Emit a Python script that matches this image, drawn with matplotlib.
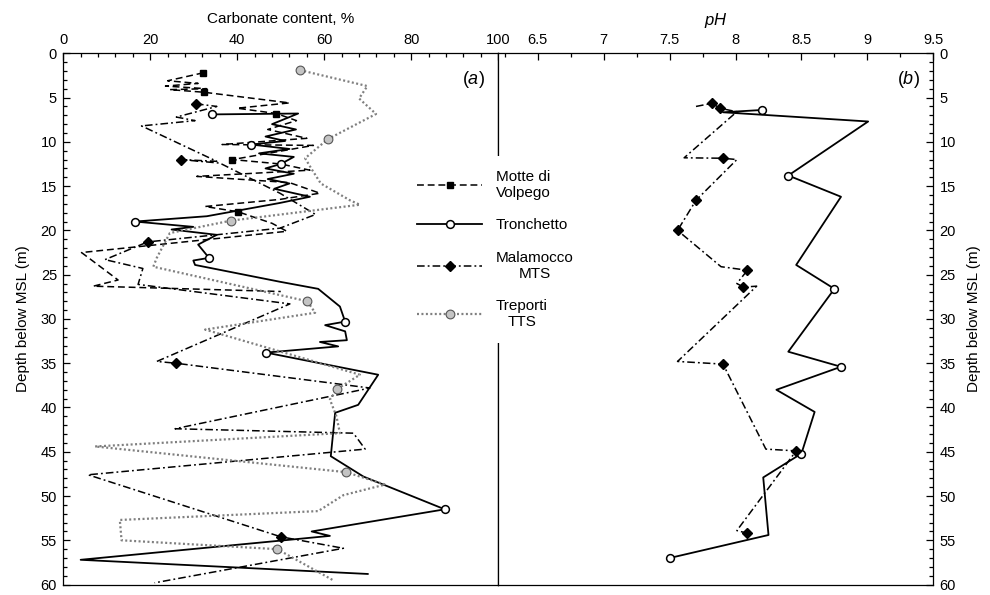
import matplotlib
matplotlib.use("Agg")
import matplotlib.pyplot as plt
from matplotlib.ticker import MultipleLocator, FuncFormatter

plt.rcParams['font.family'] = ['Liberation Sans', 'DejaVu Sans']
plt.rcParams['mathtext.fontset'] = 'custom'
plt.rcParams['mathtext.it'] = 'Liberation Sans:italic'
plt.rcParams['mathtext.rm'] = 'Liberation Sans'

# carbonate content (%) vs depth (m) for the four cores
motte_depth = [2.2, 3.1, 3.4, 3.7, 4.0, 4.1, 4.4, 5.6, 6.2, 6.8, 7.6, 8.6, 9.6, 10.3, 10.4,
               12.0, 12.5, 13.2, 13.9, 14.6, 15.8, 16.5, 17.3, 17.9, 19.2, 20.1, 22.5, 25.6,
               26.3, 26.9]
motte_carb = [32.2, 24, 31, 23.5, 33, 24.5, 32.4, 52, 40, 49, 53.6, 47, 56, 36.5, 57.5,
              38.9, 50, 56.7, 30.7, 52, 59, 49.8, 32.6, 40.2, 48, 51.4, 4.2, 12.6,
              6.9, 50]
motte_marks = [0, 6, 9, 15, 23]

tron_depth = [6.9, 6.8, 8.0, 8.6, 9.4, 9.9, 10.3, 10.8, 11.3, 11.7, 12.5, 13.0, 13.6, 14.2,
              14.7, 15.3, 16.2, 16.9, 18.4, 19.0, 19.6, 19.9, 20.5, 21.6, 23.1, 23.4, 23.9,
              25.8, 26.6, 28.6, 30.3, 30.7, 31.4, 32.4, 32.6, 33.1, 33.8, 36.3, 39.7, 40.6,
              45.5, 47.8, 51.5, 54.0, 54.5, 57.2, 58.8]
tron_carb = [34.1, 54, 48, 53.5, 46.5, 51, 43.2, 52, 45, 53, 50, 46.5, 53, 47,
             52, 48.5, 56.7, 49.8, 33, 16.5, 29.9, 24.9, 35.3, 31, 33.5, 29.9, 30.3,
             49.8, 58.6, 63.6, 64.8, 60.2, 64.8, 65.2, 59, 63.2, 46.6, 72.4, 67.8, 62.5,
             61.5, 69, 87.7, 57.1, 61.3, 4, 70]
tron_marks = [0, 6, 10, 19, 24, 30, 36, 42]

mts_depth = [5.7, 6.0, 7.2, 7.6, 8.2, 12.2, 12.0, 12.4, 15.8, 18.2, 19.75, 21.3, 23.3, 24.3,
             26.1, 28.3, 29.6, 34.8, 35.0, 37.8, 42.4, 42.9, 44.7, 47.6, 54.6, 55.9, 59.8]
mts_carb = [30.5, 35.3, 26, 30.3, 18, 35.3, 27, 36, 49.8, 58, 49.8, 19.4, 9.6, 18.3,
            17.2, 52.1, 46, 21.5, 25.9, 70.5, 25.7, 66.7, 69.4, 5.7, 50, 64.4, 21]
mts_marks = [0, 6, 11, 18, 24]

tts_depth = [1.9, 3.7, 5.1, 6.85, 9.7, 11.85, 13.0, 14.7, 16.6, 17.1, 18.9, 20.3, 23.1, 24.1,
             28.0, 29.3, 31.2, 36.3, 37.9, 39.1, 41.0, 42.9, 44.4, 47.3, 48.7, 49.9, 51.7,
             52.7, 55.0, 56.0, 59.5]
tts_carb = [54.4, 69.9, 68, 71.9, 60.8, 55.6, 57, 59.2, 65.9, 68.2, 38.5, 24.5, 21.5, 20.7,
            56.1, 57.9, 32.6, 68.2, 63, 61.3, 62.8, 63.6, 7.3, 65, 74, 64.4, 58.6,
            13, 13.4, 49.2, 62]
tts_marks = [0, 4, 10, 14, 18, 23, 29]

# pH vs depth
ph_tron_depth = [6.4, 6.66, 7.7, 13.8, 16.2, 23.9, 26.6, 33.7, 35.4, 38.0, 40.5, 45.2, 47.9,
                 54.4, 57.0]
ph_tron = [8.20, 7.905, 9.006, 8.40, 8.80, 8.46, 8.75, 8.40, 8.80, 8.31, 8.60, 8.50, 8.21,
           8.25, 7.50]
ph_tron_marks = [0, 3, 6, 8, 11, 14]

ph_mts_depth = [6.0, 5.64, 6.2, 6.6, 11.8, 11.85, 12.0, 16.6, 20.0, 24.1, 24.5, 26.0, 26.4,
                26.3, 34.8, 35.1, 44.7, 44.9, 53.9, 54.2]
ph_mts = [7.70, 7.824, 7.88, 8.01, 7.61, 7.905, 8.01, 7.70, 7.56, 7.89, 8.09, 8.01, 8.06,
          8.16, 7.56, 7.905, 8.23, 8.46, 8.01, 8.09]
ph_mts_marks = [1, 2, 5, 7, 8, 10, 12, 15, 17, 19]

labels = ['Motte di\nVolpego', 'Tronchetto', 'Malamocco\nMTS', 'Treporti\nTTS']

motte_style = dict(color='black', lw=1.1, dashes=(4.5, 2.5), marker='s', ms=4.4,
                   mfc='black', mec='black')
tron_style = dict(color='black', lw=1.3, ls='-', marker='o', ms=5.6,
                  mfc='white', mec='black', mew=1.1)
mts_style = dict(color='black', lw=1.1, dashes=(5, 2, 1.2, 2), marker='D', ms=5,
                 mfc='black', mec='black')
tts_style = dict(color='#7f7f7f', lw=1.6, dashes=(0.9, 1.1), marker='o', ms=6.3,
                 mfc='#c4c4c4', mec='#555555', mew=0.8)

fig = plt.figure(figsize=(9.9, 5.95), dpi=100)
axa = fig.add_axes([0.0639, 0.0175, 0.4394, 0.8929])
axb = fig.add_axes([0.5033, 0.0175, 0.4394, 0.8929])


def style(ax):
    ax.set_ylim(60, 0)
    ax.xaxis.tick_top()
    ax.xaxis.set_label_position('top')
    ax.yaxis.set_major_locator(MultipleLocator(5))
    ax.yaxis.set_minor_locator(MultipleLocator(1))
    ax.yaxis.set_major_formatter(FuncFormatter(lambda v, p: '%g' % v))
    ax.xaxis.set_major_formatter(FuncFormatter(lambda v, p: '%g' % v))
    ax.tick_params(which='both', direction='in', labelsize=10.5, width=0.9)
    ax.tick_params(which='major', length=5, pad=4.5)
    ax.tick_params(which='minor', length=3)
    for s in ax.spines.values():
        s.set_linewidth(0.9)


style(axa)
axa.set_xlim(0, 100)
axa.xaxis.set_major_locator(MultipleLocator(20))
axa.xaxis.set_minor_locator(MultipleLocator(4))
axa.set_xlabel('Carbonate content, %', fontsize=11, labelpad=7)
axa.set_ylabel('Depth below MSL (m)', fontsize=11, labelpad=8)

h1, = axa.plot(motte_carb, motte_depth, markevery=motte_marks, **motte_style)
h2, = axa.plot(tron_carb, tron_depth, markevery=tron_marks, **tron_style)
h3, = axa.plot(mts_carb, mts_depth, markevery=mts_marks, **mts_style)
h4, = axa.plot(tts_carb, tts_depth, markevery=tts_marks, **tts_style)
axa.text(0.942, 0.95, r'($\mathit{a}$)', transform=axa.transAxes,
         ha='center', va='center', fontsize=13)

style(axb)
axb.set_xlim(6.2, 9.5)
axb.xaxis.set_major_locator(MultipleLocator(0.5))
axb.xaxis.set_minor_locator(MultipleLocator(0.25))
axb.yaxis.tick_right()
axb.yaxis.set_label_position('right')
axb.set_xlabel(r'$\mathit{pH}$', fontsize=12, labelpad=6)
axb.set_ylabel('Depth below MSL (m)', fontsize=11, labelpad=8)

axb.plot(ph_tron, ph_tron_depth, markevery=ph_tron_marks, **tron_style)
axb.plot(ph_mts, ph_mts_depth, markevery=ph_mts_marks, **mts_style)
axb.text(0.942, 0.95, r'($\mathit{b}$)', transform=axb.transAxes,
         ha='center', va='center', fontsize=13)

leg = fig.legend([h1, h2, h3, h4], labels, loc='upper left',
                 bbox_to_anchor=(0.407, 0.738), borderaxespad=0,
                 frameon=True, facecolor='white', edgecolor='none', framealpha=1,
                 fancybox=False, fontsize=11, handlelength=4.3, handletextpad=0.9,
                 labelspacing=1.2, borderpad=0.9)
for t in leg.get_texts():
    t.set_multialignment('center')

fig.savefig('out.png', dpi=100)
